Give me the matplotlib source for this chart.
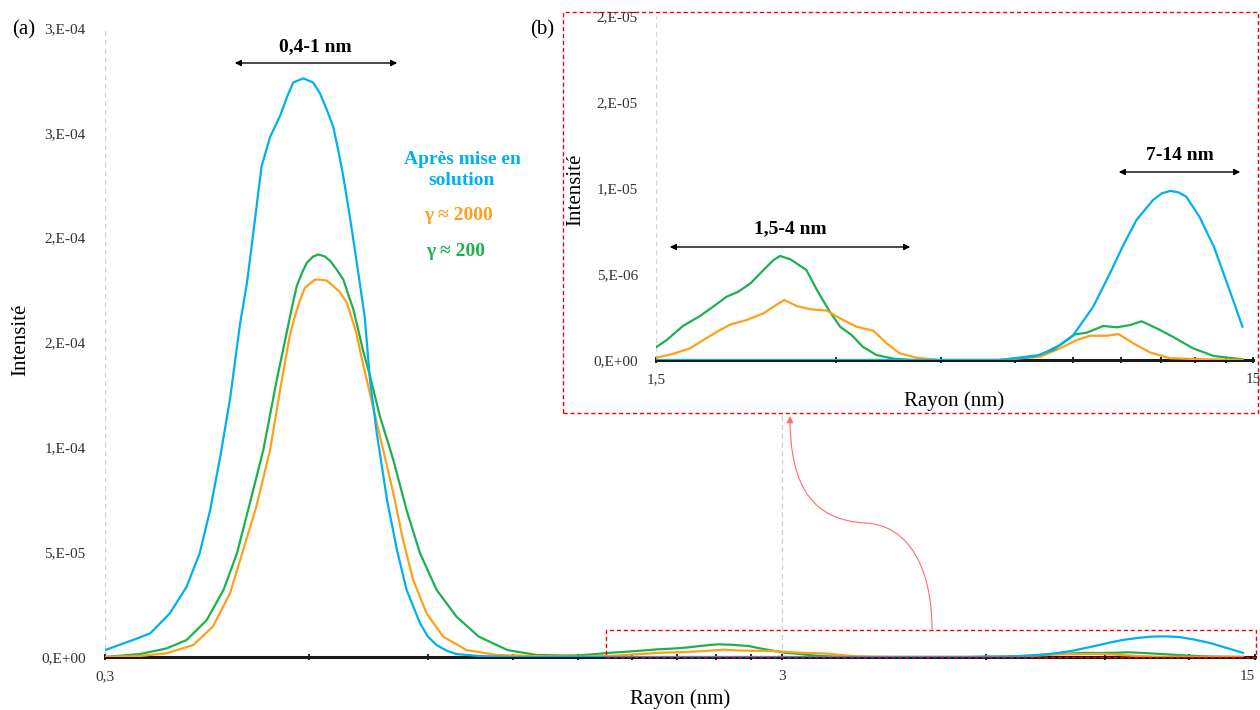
import matplotlib
matplotlib.use("Agg")
import matplotlib.pyplot as plt
from matplotlib.patches import Rectangle, FancyArrowPatch
from matplotlib.path import Path

plt.rcParams['font.family'] = ['Liberation Serif', 'DejaVu Serif']

# --- data (radius in nm, intensity) ---
r_blue = [0.300, 0.330, 0.350, 0.374, 0.396, 0.414, 0.429, 0.444, 0.459, 0.475,
          0.486, 0.491, 0.511, 0.526, 0.544, 0.550, 0.557, 0.569, 0.579, 0.589,
          0.599, 0.609, 0.623, 0.638, 0.652, 0.663, 0.675, 0.690, 0.702, 0.714,
          0.726, 0.739, 0.756, 0.783, 0.810, 0.837, 0.876, 0.900, 0.927, 0.959,
          0.992, 1.07, 1.20, 5.65, 6.43, 6.94, 7.50, 8.10, 8.64, 9.10,
          9.57, 10.2, 10.55, 10.9, 11.25, 11.6, 12.2, 12.9, 13.7, 14.4]
i_blue = [3.3e-6, 8.1e-6, 1.13e-5, 2.08e-5, 3.35e-5, 4.95e-5, 7.01e-5, 9.55e-5, 1.23e-4, 1.59e-4,
          1.78e-4, 1.89e-4, 2.34e-4, 2.48e-4, 2.58e-4, 2.62e-4, 2.67e-4, 2.74e-4, 2.75e-4, 2.76e-4,
          2.75e-4, 2.74e-4, 2.69e-4, 2.61e-4, 2.53e-4, 2.42e-4, 2.29e-4, 2.10e-4, 1.94e-4, 1.78e-4,
          1.62e-4, 1.32e-4, 1.07e-4, 7.49e-5, 5.1e-5, 3.2e-5, 1.61e-5, 9.7e-6, 5.7e-6, 3.0e-6,
          1.4e-6, 4.8e-7, 0.0, 0.0, 1.9e-7, 5.8e-7, 1.45e-6, 3.1e-6, 5.04e-6, 6.69e-6,
          8.14e-6, 9.3e-6, 9.69e-6, 9.83e-6, 9.75e-6, 9.49e-6, 8.33e-6, 6.59e-6, 4.07e-6, 1.94e-6]

r_green = [0.300, 0.338, 0.370, 0.396, 0.424, 0.449, 0.470, 0.491, 0.514, 0.538,
           0.556, 0.566, 0.576, 0.586, 0.596, 0.609, 0.620, 0.634, 0.645, 0.659,
           0.675, 0.686, 0.698, 0.722, 0.739, 0.764, 0.800, 0.837, 0.876, 0.927,
           0.992, 1.07, 1.18, 1.30, 1.42,
           1.50, 1.563, 1.666, 1.778, 1.87, 1.97, 2.06, 2.16, 2.27, 2.36,
           2.42, 2.52, 2.68, 2.79, 2.92, 3.05, 3.19, 3.33, 3.51, 3.75,
           4.04, 5.65, 6.60, 7.13, 7.55, 7.90, 8.42, 8.87, 9.33, 9.76,
           10.35, 11.0, 11.9, 12.9, 14.4]
i_green = [0.0, 1.4e-6, 4.1e-6, 8.1e-6, 1.76e-5, 3.2e-5, 4.95e-5, 7.33e-5, 9.87e-5, 1.32e-4,
           1.54e-4, 1.66e-4, 1.77e-4, 1.83e-4, 1.88e-4, 1.91e-4, 1.92e-4, 1.91e-4, 1.89e-4, 1.85e-4,
           1.80e-4, 1.73e-4, 1.66e-4, 1.46e-4, 1.34e-4, 1.15e-4, 9.4e-5, 7.0e-5, 4.95e-5, 3.2e-5,
           1.92e-5, 9.7e-6, 3.3e-6, 1.0e-6, 7.0e-7,
           7.4e-7, 1.16e-6, 1.99e-6, 2.56e-6, 3.1e-6, 3.68e-6, 3.97e-6, 4.46e-6, 5.23e-6, 5.81e-6,
           6.05e-6, 5.85e-6, 5.23e-6, 4.07e-6, 2.91e-6, 1.94e-6, 1.45e-6, 7.7e-7, 2.9e-7, 7.6e-8,
           0.0, 0.0, 2.9e-7, 8.7e-7, 1.49e-6, 1.59e-6, 1.98e-6, 1.9e-6, 2.03e-6, 2.25e-6,
           1.84e-6, 1.36e-6, 6.8e-7, 2.3e-7, 4e-8]

r_orange = [0.300, 0.338, 0.370, 0.405, 0.433, 0.459, 0.480, 0.502, 0.526, 0.544,
            0.563, 0.573, 0.582, 0.592, 0.602, 0.613, 0.623, 0.638, 0.652, 0.667,
            0.683, 0.694, 0.706, 0.718, 0.731, 0.773, 0.800, 0.827, 0.856, 0.896,
            0.948, 1.026, 1.137, 1.28, 1.40,
            1.50, 1.60, 1.71, 1.82, 1.92, 2.00, 2.13, 2.27, 2.36, 2.46,
            2.58, 2.72, 2.90, 3.05, 3.25, 3.47, 3.65, 3.84, 4.10, 4.49,
            5.65, 6.60, 7.13, 7.60, 8.00, 8.53, 8.93, 9.45, 10.1, 10.9,
            12.2, 14.4]
i_orange = [0.0, 4.8e-7, 1.8e-6, 5.7e-6, 1.45e-5, 3.04e-5, 5.1e-5, 7.17e-5, 9.87e-5, 1.27e-4,
            1.54e-4, 1.63e-4, 1.70e-4, 1.76e-4, 1.78e-4, 1.80e-4, 1.80e-4, 1.795e-4, 1.77e-4, 1.74e-4,
            1.69e-4, 1.62e-4, 1.54e-4, 1.43e-4, 1.32e-4, 9.87e-5, 7.81e-5, 5.58e-5, 3.67e-5, 2.08e-5,
            9.7e-6, 3.3e-6, 9.5e-7, 5e-7, 2.5e-7,
            1.3e-7, 3.5e-7, 6.8e-7, 1.26e-6, 1.74e-6, 2.07e-6, 2.33e-6, 2.71e-6, 3.1e-6, 3.49e-6,
            3.14e-6, 2.95e-6, 2.87e-6, 2.42e-6, 1.94e-6, 1.7e-6, 9.7e-7, 3.9e-7, 1.3e-7, 0.0,
            0.0, 1.9e-7, 6.8e-7, 1.16e-6, 1.41e-6, 1.41e-6, 1.51e-6, 9.7e-7, 4.3e-7, 1e-7,
            5e-8, 0.0]

main_yticks = [0, 5e-5, 1e-4, 1.5e-4, 2e-4, 2.5e-4, 3e-4]
main_ylabels = ["0,E+00", "5,E-05", "1,E-04", "2,E-04", "2,E-04", "3,E-04", "3,E-04"]
main_xticks = [0.3, 3, 15]
main_xlabels = ["0,3", "3", "15"]
main_xminor = [0.6, 0.9, 1.2, 1.5, 1.8, 2.1, 2.4, 2.7, 6, 9, 12]

ins_yticks = [0, 5e-6, 1e-5, 1.5e-5, 2e-5]
ins_ylabels = ["0,E+00", "5,E-06", "1,E-05", "2,E-05", "2,E-05"]
ins_xticks = [1.5, 15]
ins_xlabels = ["1,5", "15"]
ins_xminor = [3, 4.5, 6, 7.5, 9, 10.5, 12, 13.5]

c_blue = '#00B0F0'
c_orange = '#FF9F1C'
c_green = '#1DB050'

W, H = 1260, 710


def fx(px):
    return px / W


def fy(py):
    return 1 - py / H


def style_axis(ax, xt, xl, xm, yt, yl, ypad):
    ax.set_xscale('log')
    for s in ['left', 'top', 'right']:
        ax.spines[s].set_visible(False)
    ax.spines['bottom'].set_linewidth(2.2)
    ax.spines['bottom'].set_color('#1a1a1a')
    ax.set_xticks(xt)
    ax.set_xticklabels(xl)
    ax.set_xticks(xm, minor=True)
    ax.xaxis.set_minor_formatter(plt.NullFormatter())
    ax.tick_params(axis='x', which='both', direction='inout', length=5, width=1.2,
                   labelsize=11, pad=7, colors='black', labelcolor='#333333')
    ax.set_yticks(yt)
    ax.set_yticklabels(yl)
    ax.tick_params(axis='y', length=0, labelsize=11, pad=ypad, labelcolor='#333333')


fig = plt.figure(figsize=(12.6, 7.1), dpi=100)

# main chart (a)
ax = fig.add_axes([fx(105), fy(657), 1150 / W, 629 / H])
ax.set_zorder(1)
ax.patch.set_alpha(0)
for xv in [0.3, 3]:
    ax.axvline(xv, color='#cfcfcf', lw=0.9, ls=(0, (4, 3)), zorder=0)
ax.plot(r_green, i_green, color=c_green, lw=1.6, zorder=3)
ax.plot(r_orange, i_orange, color=c_orange, lw=1.6, zorder=4)
ax.plot(r_blue, i_blue, color=c_blue, lw=1.6, zorder=5)
ax.set_xlim(0.3, 15)
ax.set_ylim(0, 3e-4)
style_axis(ax, main_xticks, main_xlabels, main_xminor, main_yticks, main_ylabels, 14)
ax.get_xticklabels()[-1].set_horizontalalignment('right')
ax.set_ylabel("Intensité", fontsize=15)
ax.yaxis.set_label_coords(-0.065, 0.504)
ax.set_xlabel("Rayon (nm)", fontsize=15)
ax.xaxis.set_label_coords(0.5, -0.052)

# inset background box
fig.add_artist(Rectangle((fx(563), fy(413)), (1258 - 563) / W, (413 - 12) / H,
                         transform=fig.transFigure, facecolor='white', edgecolor='red',
                         lw=1.0, ls=(0, (3, 2)), zorder=2))
# zoom box on main chart
fig.add_artist(Rectangle((fx(606), fy(657)), (1256 - 606) / W, (657 - 630) / H,
                         transform=fig.transFigure, facecolor='none', edgecolor='red',
                         lw=1.0, ls=(0, (3, 2)), zorder=6))

# curved arrow
verts = [(fx(932), fy(629)), (fx(932), fy(570)), (fx(910), fy(525)), (fx(865), fy(523)),
         (fx(815), fy(520)), (fx(790), fy(490)), (fx(790), fy(416))]
codes = [Path.MOVETO] + [Path.CURVE4] * 6
fig.add_artist(FancyArrowPatch(path=Path(verts, codes), arrowstyle='-|>', mutation_scale=10,
                               color='#FF6B6B', lw=0.8, transform=fig.transFigure, zorder=6))

# inset (b)
axi = fig.add_axes([fx(656), fy(360), 597 / W, 344 / H])
axi.set_zorder(3)
axi.patch.set_alpha(0)
for xv in [1.5, 15]:
    axi.axvline(xv, color='#d5d5d5', lw=0.9, ls=(0, (4, 3)), zorder=0)
axi.plot(r_green, i_green, color=c_green, lw=1.6, zorder=3)
axi.plot(r_orange, i_orange, color=c_orange, lw=1.6, zorder=4)
axi.plot(r_blue, i_blue, color=c_blue, lw=1.6, zorder=5)
axi.set_xlim(1.5, 15)
axi.set_ylim(0, 2e-5)
style_axis(axi, ins_xticks, ins_xlabels, ins_xminor, ins_yticks, ins_ylabels, 13)
axi.set_ylabel("Intensité", fontsize=15)
axi.yaxis.set_label_coords(-0.118, 0.494)
axi.set_xlabel("Rayon (nm)", fontsize=15)
axi.xaxis.set_label_coords(0.5, -0.09)

# panel letters
fig.text(fx(24), fy(30), "(a)", fontsize=15, ha='center', va='center', zorder=7)
fig.text(fx(542), fy(30), "(b)", fontsize=15, ha='center', va='center', zorder=7)

# size-range annotations
ranges = [((232, 400, 63), (315, 47), "0,4-1 nm"),
          ((667, 913, 247), (790, 229), "1,5-4 nm"),
          ((1116, 1243, 172), (1180, 155), "7-14 nm")]
for (x0, x1, ya), (tx, ty), label in ranges:
    fig.add_artist(FancyArrowPatch((fx(x0), fy(ya)), (fx(x1), fy(ya)), arrowstyle='<|-|>',
                                   mutation_scale=9, color='black', lw=1.0,
                                   transform=fig.transFigure, zorder=7))
    fig.text(fx(tx), fy(ty), label, fontsize=14, fontweight='bold', ha='center',
             va='center', zorder=7)

# legend-like labels
fig.text(fx(462), fy(170), "Après mise en\nsolution", fontsize=14, fontweight='bold',
         color=c_blue, ha='center', va='center', linespacing=1.3, zorder=7)
fig.text(fx(459), fy(216), "γ ≈ 2000", fontsize=14, fontweight='bold', color=c_orange,
         ha='center', va='center', zorder=7)
fig.text(fx(456), fy(252), "γ ≈ 200", fontsize=14, fontweight='bold', color=c_green,
         ha='center', va='center', zorder=7)

fig.savefig("out.png", dpi=100)
